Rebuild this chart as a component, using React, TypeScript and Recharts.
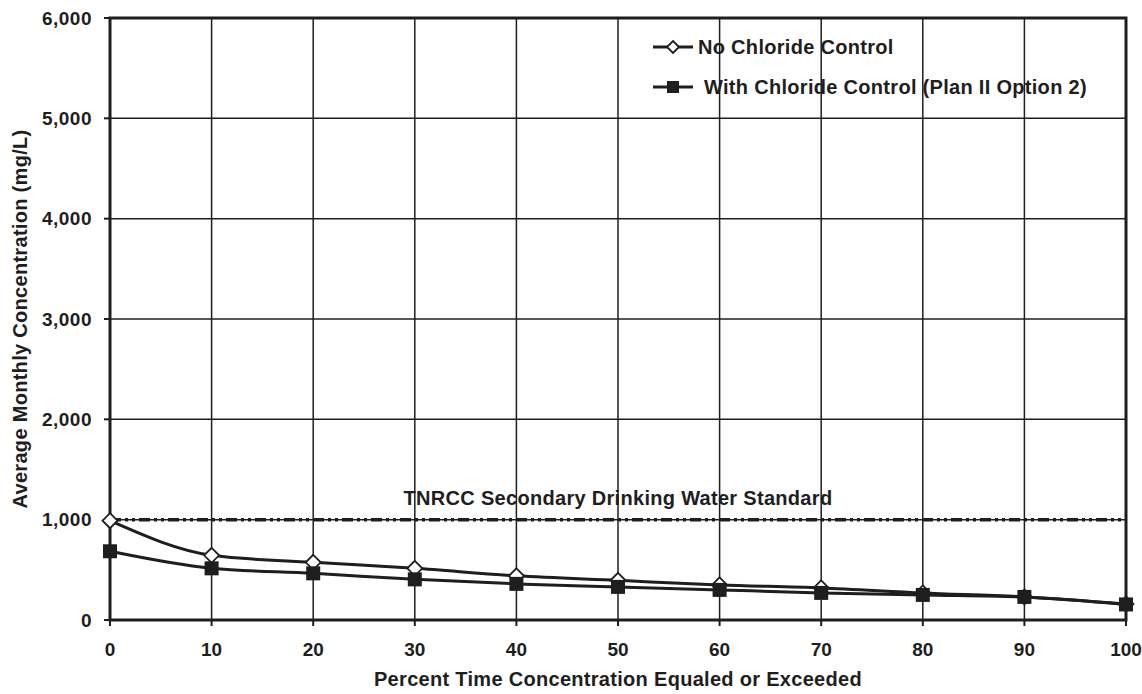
import {
  LineChart,
  Line,
  XAxis,
  YAxis,
  CartesianGrid,
  ReferenceLine,
  ReferenceArea,
} from 'recharts';

const percentTime = [0, 10, 20, 30, 40, 50, 60, 70, 80, 90, 100];
const noControl = [990, 645, 575, 515, 440, 395, 350, 320, 270, 230, 160];
const withControl = [685, 515, 465, 405, 360, 330, 300, 270, 250, 230, 155];
const xTicks = [0, 10, 20, 30, 40, 50, 60, 70, 80, 90, 100];
const yTicks = [0, 1000, 2000, 3000, 4000, 5000, 6000];
const standard = 1000;

const data = percentTime.map((p, i) => ({
  p,
  noControl: noControl[i],
  withControl: withControl[i],
}));

const INK = '#1e1e1e';
const FONT = '"Liberation Sans", Arial, sans-serif';

function Diamond(props: any) {
  const { cx, cy } = props;
  if (cx == null || cy == null) return null;
  const r = 7.5;
  return (
    <path
      d={`M${cx},${cy - r}L${cx + r},${cy}L${cx},${cy + r}L${cx - r},${cy}Z`}
      fill="#fff"
      stroke={INK}
      strokeWidth={1.8}
    />
  );
}

function Square(props: any) {
  const { cx, cy } = props;
  if (cx == null || cy == null) return null;
  const s = 14;
  return <rect x={cx - s / 2} y={cy - s / 2} width={s} height={s} fill={INK} />;
}

// legend sits inside the plot, top right
function LegendBox() {
  const rows = [
    { label: 'No Chloride Control', marker: 'diamond', gap: 5 },
    { label: 'With Chloride Control (Plan II Option 2)', marker: 'square', gap: 11 },
  ];
  return (
    <div
      style={{
        position: 'absolute',
        top: 27,
        left: 653,
        fontFamily: FONT,
        fontWeight: 'bold',
        fontSize: 20,
        letterSpacing: 0.3,
        color: INK,
      }}
    >
      {rows.map((r) => (
        <div key={r.label} style={{ display: 'flex', alignItems: 'center', height: 40 }}>
          <svg width={40} height={16}>
            <line x1={0} y1={8} x2={40} y2={8} stroke={INK} strokeWidth={3} />
            {r.marker === 'diamond' ? (
              <path d="M20,2L26,8L20,14L14,8Z" fill="#fff" stroke={INK} strokeWidth={1.8} />
            ) : (
              <rect x={14} y={2} width={12} height={12} fill={INK} />
            )}
          </svg>
          <span style={{ marginLeft: r.gap }}>{r.label}</span>
        </div>
      ))}
    </div>
  );
}

export default function App() {
  return (
    <div style={{ position: 'fixed', top: 0, left: 0, background: '#fff' }}>
      <LineChart
        width={1142}
        height={694}
        data={data}
        margin={{ top: 18, right: 16, left: 0, bottom: 2 }}
      >
        <CartesianGrid stroke={INK} strokeWidth={1.5} />
        <XAxis
          dataKey="p"
          type="number"
          domain={[0, 100]}
          ticks={xTicks}
          height={72}
          tickSize={6}
          tickMargin={17}
          stroke={INK}
          strokeWidth={2}
          tick={{ fill: INK, fontFamily: FONT, fontWeight: 'bold', fontSize: 19 }}
          label={{
            value: 'Percent Time Concentration Equaled or Exceeded',
            position: 'insideBottom',
            offset: 6,
            fill: INK,
            fontFamily: FONT,
            fontWeight: 'bold',
            fontSize: 20,
            letterSpacing: 0.3,
          }}
        />
        <YAxis
          type="number"
          domain={[0, 6000]}
          ticks={yTicks}
          width={110}
          tickSize={6}
          tickMargin={12}
          stroke={INK}
          strokeWidth={2}
          tickFormatter={(v: number) => v.toLocaleString('en-US')}
          tick={{ fill: INK, fontFamily: FONT, fontWeight: 'bold', fontSize: 19, letterSpacing: 0.5 }}
          label={{
            content: ({ viewBox }: any) => {
              const x = viewBox.x + 27;
              const y = viewBox.y + viewBox.height / 2;
              return (
                <text
                  x={x}
                  y={y}
                  transform={`rotate(-90, ${x}, ${y})`}
                  textAnchor="middle"
                  fill={INK}
                  fontFamily={FONT}
                  fontWeight="bold"
                  fontSize={20}
                  letterSpacing={0.3}
                >
                  Average Monthly Concentration (mg/L)
                </text>
              );
            },
          }}
        />
        <ReferenceArea
          x1={0}
          x2={100}
          y1={0}
          y2={6000}
          fill="none"
          stroke={INK}
          strokeWidth={3}
        />
        <ReferenceLine
          y={standard}
          stroke={INK}
          strokeWidth={3.5}
          strokeDasharray="11 4 3 4 3 4"
          label={{
            value: 'TNRCC Secondary Drinking Water Standard',
            position: 'insideTop',
            dy: -34,
            fill: INK,
            fontFamily: FONT,
            fontWeight: 'bold',
            fontSize: 20,
            letterSpacing: 0.3,
          }}
        />
        <Line
          type="monotone"
          dataKey="noControl"
          name="No Chloride Control"
          stroke={INK}
          strokeWidth={3}
          dot={<Diamond />}
          isAnimationActive={false}
        />
        <Line
          type="monotone"
          dataKey="withControl"
          name="With Chloride Control (Plan II Option 2)"
          stroke={INK}
          strokeWidth={3}
          dot={<Square />}
          isAnimationActive={false}
        />
      </LineChart>
      <LegendBox />
    </div>
  );
}
